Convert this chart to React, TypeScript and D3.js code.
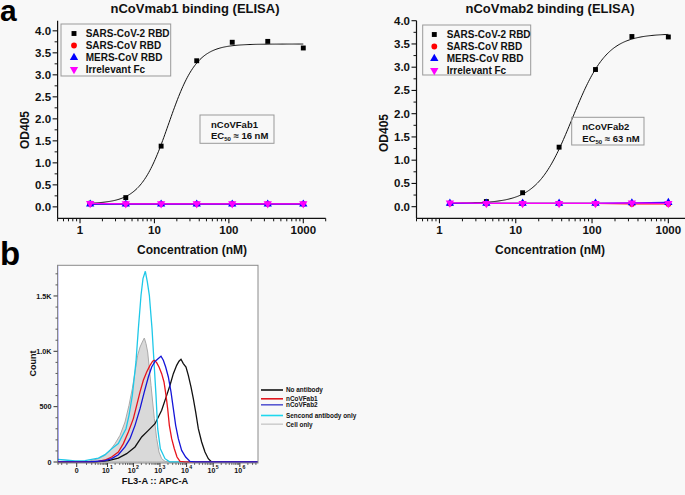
import React from "react";
import * as d3 from "d3";

// ---------------- ELISA data (panel a) ----------------
const concentrations = [1.37, 4.12, 12.3, 37.0, 111, 333, 1000];
const elisaSeriesNames = ["SARS-CoV-2 RBD", "SARS-CoV RBD", "MERS-CoV RBD", "Irrelevant Fc"];
const mab1SarsCoV2 = [0.08, 0.21, 1.38, 3.32, 3.74, 3.76, 3.61];
const mab1SarsCoV = [0.07, 0.07, 0.07, 0.07, 0.07, 0.07, 0.07];
const mab1Mers = [0.06, 0.06, 0.06, 0.06, 0.06, 0.06, 0.06];
const mab1Irrelevant = [0.08, 0.07, 0.07, 0.07, 0.07, 0.07, 0.07];
const mab2SarsCoV2 = [0.07, 0.11, 0.3, 1.28, 2.95, 3.66, 3.65];
const mab2SarsCoV = [0.07, 0.07, 0.07, 0.07, 0.07, 0.06, 0.06];
const mab2Mers = [0.07, 0.07, 0.07, 0.07, 0.07, 0.08, 0.09];
const mab2Irrelevant = [0.08, 0.07, 0.07, 0.07, 0.07, 0.08, 0.07];
// fitted four-parameter logistic curves
const mab1Fit = { bottom: 0.07, top: 3.7, ec50: 15.5, hill: 2.3 };
const mab2Fit = { bottom: 0.07, top: 3.72, ec50: 55, hill: 1.9 };
const odTicks = [0, 0.5, 1, 1.5, 2, 2.5, 3, 3.5, 4];
const concTicks = [1, 10, 100, 1000];

// ---------------- Flow cytometry data (panel b) ----------------
const flowLegend = ["No antibody", "nCoVFab1", "nCoVFab2", "Sencond antibody only", "Cell only"];
const cellOnly: [number, number][] = [
  [-3.2, 0], [1.3, 6], [4.12, 30], [7.91, 60], [12.6, 105], [19.8, 166], [30.9, 241], [48, 361],
  [68.1, 512], [91, 663], [115, 813], [145, 964], [178, 1039], [217, 1084], [258, 1120], [299, 1069],
  [345, 994], [399, 843], [461, 693], [532, 542], [615, 392], [752, 211], [921, 90], [1160, 30],
  [1547, 6], [2384, 0], [4.8e6, 0],
];
const noAntibody: [number, number][] = [
  [-3.2, 0], [2.9, 0], [10.8, 12], [26.6, 36], [55.5, 75], [115, 136], [205, 226], [366, 286],
  [652, 346], [1160, 467], [1787, 602], [2384, 693], [3180, 798], [4241, 873], [5190, 910],
  [6168, 928], [7541, 889], [9500, 858], [11625, 783], [14630, 678], [17900, 572], [21900, 452],
  [27580, 301], [36770, 181], [49040, 90], [65400, 30], [87200, 0], [4.8e6, 0],
];
const secondOnly: [number, number][] = [
  [-3.2, 24], [-1.31, 18], [-0.12, 9], [0.79, 12], [1.99, 24], [4.12, 36], [7.91, 66], [14.6, 120],
  [26.6, 166], [35.8, 226], [52.4, 301], [68.1, 422], [91, 602], [125, 904], [154, 1205], [194, 1506],
  [230, 1657], [282, 1723], [335, 1627], [399, 1506], [503, 1205], [597, 904], [710, 602], [821, 301],
  [1034, 120], [1547, 30], [2384, 0], [4.8e6, 0],
];
const fab1: [number, number][] = [
  [-3.2, 3], [1.3, 0], [4.12, 6], [7.91, 18], [14.6, 45], [26.6, 90], [41.5, 166], [64.3, 271],
  [99.5, 392], [133, 512], [178, 633], [237, 738], [317, 813], [423, 873], [532, 910], [615, 919],
  [752, 898], [921, 858], [1160, 798], [1419, 723], [1687, 602], [1948, 482], [2251, 331], [2753, 211],
  [3465, 120], [4366, 45], [5658, 6], [8710, 0], [4.8e6, 0],
];
const fab2: [number, number][] = [
  [-3.2, 1800], [-3.1, 3], [1.3, 0], [7.91, 12], [14.6, 30], [26.6, 66], [48, 136], [74.3, 211],
  [115, 331], [178, 482], [258, 633], [366, 768], [488, 858], [652, 909], [869, 934], [1095, 955],
  [1339, 919], [1639, 858], [2065, 768], [2598, 633], [3180, 482], [3889, 331], [4899, 211],
  [6531, 105], [9230, 45], [13422, 6], [20680, 0], [4.8e6, 0],
];
const countTicks = [0, 500, 1000, 1500];
const countTickLabels = ["0", "500", "1.0K", "1.5K"];
const fluorDecades = [1, 2, 3, 4, 5, 6];

const FONT = "'Liberation Sans', Arial, Helvetica, sans-serif";

type Fit = { bottom: number; top: number; ec50: number; hill: number };

function ElisaPanel(p: {
  title: string;
  titleX: number;
  xRange: [number, number];
  yDomain: [number, number];
  yRange: [number, number];
  series: number[][];
  fit: Fit;
  fabName: string;
  ec50Text: string;
  xTitleX: number;
  yTitlePos: [number, number];
  legendBox: [number, number, number, number];
  legendMarkerX: number;
  legendTextX: number;
  annBox: [number, number, number, number];
  annTextX: number;
  annY: [number, number];
}) {
  const x = d3.scaleLog().domain([0.5, 2000]).range(p.xRange);
  const y = d3.scaleLinear().domain(p.yDomain).range(p.yRange);
  const x0 = p.xRange[0];
  const yb = p.yRange[0];
  const colors = ["#000000", "#ff0000", "#0000ff", "#ff00ff"];
  const symbols = [
    d3.symbol(d3.symbolSquare, 24)(),
    d3.symbol(d3.symbolCircle, 26)(),
    d3.symbol(d3.symbolTriangle, 30)(),
    d3.symbol(d3.symbolTriangle, 30)(),
  ];
  const rot = [0, 0, 0, 180];
  const fitFn = (c: number) => p.fit.bottom + (p.fit.top - p.fit.bottom) / (1 + Math.pow(p.fit.ec50 / c, p.fit.hill));
  const fitXs = d3.range(0, 201).map((i) => Math.pow(10, Math.log10(1.37) + (i / 200) * (3 - Math.log10(1.37))));
  const fitPath = d3.line<number>().x((c) => x(c)).y((c) => y(fitFn(c)))(fitXs) || "";
  const line = d3.line<number>().x((_, i) => x(concentrations[i])).y((v) => y(v));

  const yMinor: number[] = [];
  for (let v = 0.25; v < 4.0; v += 0.5) yMinor.push(v);
  const xMinor: number[] = [];
  for (let e = -1; e <= 3; e++) for (let m = 2; m <= 9; m++) {
    const v = m * Math.pow(10, e);
    if (v >= 0.5 && v <= 2000) xMinor.push(v);
  }

  return (
    <g fontFamily={FONT} fontWeight="bold" fill="#111">
      <text x={p.titleX} y={12.5} fontSize={13} textAnchor="middle">{p.title}</text>
      {/* axes */}
      <line x1={x0} x2={x0} y1={yb} y2={p.yRange[1]} stroke="#111" strokeWidth={1.2} />
      <line x1={x0} x2={p.xRange[1]} y1={yb} y2={yb} stroke="#111" strokeWidth={1.2} />
      {odTicks.map((t) => (
        <g key={"yt" + t}>
          <line x1={x0 - 5} x2={x0} y1={y(t)} y2={y(t)} stroke="#111" strokeWidth={1.1} />
          <text x={x0 - 6.5} y={y(t) + 4} fontSize={11.5} textAnchor="end">{t.toFixed(1)}</text>
        </g>
      ))}
      {yMinor.map((t) => (
        <line key={"ym" + t} x1={x0 - 3} x2={x0} y1={y(t)} y2={y(t)} stroke="#111" strokeWidth={1} />
      ))}
      {concTicks.map((t) => (
        <g key={"xt" + t}>
          <line x1={x(t)} x2={x(t)} y1={yb} y2={yb + 5} stroke="#111" strokeWidth={1.1} />
          <text x={x(t)} y={yb + 16} fontSize={11.5} textAnchor="middle">{String(t)}</text>
        </g>
      ))}
      {xMinor.map((t) => (
        <line key={"xm" + t} x1={x(t)} x2={x(t)} y1={yb} y2={yb + 3} stroke="#111" strokeWidth={1} />
      ))}
      <text x={p.xTitleX} y={253.5} fontSize={12} textAnchor="middle">Concentration (nM)</text>
      <text
        transform={`translate(${p.yTitlePos[0]},${p.yTitlePos[1]}) rotate(-90)`}
        fontSize={12}
        textAnchor="middle"
        dominantBaseline="central"
      >
        OD405
      </text>
      {/* fit curve */}
      <path d={fitPath} fill="none" stroke="#111" strokeWidth={1} />
      {/* series */}
      {p.series.map((vals, si) => (
        <g key={"s" + si}>
          {si > 0 && <path d={line(vals) || ""} fill="none" stroke={colors[si]} strokeWidth={1.3} />}
          {vals.map((v, i) => (
            <path
              key={i}
              d={symbols[si] || ""}
              fill={colors[si]}
              transform={`translate(${x(concentrations[i])},${y(v)}) rotate(${rot[si]})`}
            />
          ))}
        </g>
      ))}
      {/* legend */}
      <rect x={p.legendBox[0]} y={p.legendBox[1]} width={p.legendBox[2]} height={p.legendBox[3]} fill="none" stroke="#999" strokeWidth={1} />
      {elisaSeriesNames.map((n, i) => (
        <g key={n}>
          <path d={symbols[i] || ""} fill={colors[i]} transform={`translate(${p.legendMarkerX},${p.legendBox[1] + 9.5 + i * 12}) rotate(${rot[i]})`} />
          <text x={p.legendTextX} y={p.legendBox[1] + 13 + i * 12} fontSize={10}>{n}</text>
        </g>
      ))}
      {/* annotation */}
      <rect x={p.annBox[0]} y={p.annBox[1]} width={p.annBox[2]} height={p.annBox[3]} fill="none" stroke="#999" strokeWidth={1} />
      <text x={p.annTextX} y={p.annY[0]} fontSize={9.5}>{p.fabName}</text>
      <text x={p.annTextX} y={p.annY[1]} fontSize={9.5}>
        EC<tspan fontSize={6} dy={2}>50</tspan>
        <tspan dy={-2}>{" \u2248 " + p.ec50Text}</tspan>
      </text>
    </g>
  );
}

function FlowPanel() {
  const left = 57.5, right = 258, top = 265.3, bottom = 463;
  const x = d3.scaleSymlog().constant(0.75).domain([-3.2, 4.8e6]).range([left, right]);
  const y = d3.scaleLinear().domain([-9, 1777]).range([bottom, top]);
  const line = d3.line<[number, number]>().x((d) => x(d[0])).y((d) => y(d[1]));
  const area = d3.area<[number, number]>().x((d) => x(d[0])).y0(y(0)).y1((d) => y(d[1]));
  const xMinor: number[] = [-3, -2, -1];
  for (let m = 1; m <= 9; m++) xMinor.push(m);
  for (let e = 1; e <= 6; e++) for (let m = 2; m <= 9; m++) {
    const v = m * Math.pow(10, e);
    if (v < 4.8e6) xMinor.push(v);
  }
  const yMinor = d3.range(100, 1800, 100).filter((v) => v % 500 !== 0);
  const legendColors = ["#111111", "#e0161e", "#5a5ad2", "#1ed8ee", "#cfcfcf"];
  const legendY = [390, 398.8, 404.8, 415.5, 424.2];
  return (
    <g fontFamily={FONT} fontWeight="bold" fill="#111">
      <defs>
        <clipPath id="flowclip">
          <rect x={left} y={top} width={right - left} height={bottom - top} />
        </clipPath>
      </defs>
      <rect x={left} y={top} width={right - left} height={bottom - top} fill="#ffffff" />
      <g clipPath="url(#flowclip)">
        <path d={area(cellOnly) || ""} fill="#d9d9d9" stroke="#a9a9a9" strokeWidth={1} />
        <path d={line(noAntibody) || ""} fill="none" stroke="#111111" strokeWidth={1.3} />
        <path d={line(secondOnly) || ""} fill="none" stroke="#1ec8e8" strokeWidth={1.3} />
        <path d={line(fab1) || ""} fill="none" stroke="#e8141c" strokeWidth={1.3} />
        <path d={line(fab2) || ""} fill="none" stroke="#1515d8" strokeWidth={1.3} />
      </g>
      <rect x={left} y={top} width={right - left} height={bottom - top} fill="none" stroke="#8a8a8a" strokeWidth={1} />
      {countTicks.map((t, i) => (
        <g key={"ct" + t}>
          <line x1={left - 4} x2={left} y1={y(t)} y2={y(t)} stroke="#333" strokeWidth={1} />
          <text x={left - 6} y={y(t) + 2.6} fontSize={7.2} textAnchor="end">{countTickLabels[i]}</text>
        </g>
      ))}
      {yMinor.map((t) => (
        <line key={"cm" + t} x1={left - 2} x2={left} y1={y(t)} y2={y(t)} stroke="#333" strokeWidth={0.8} />
      ))}
      <line x1={x(0)} x2={x(0)} y1={bottom} y2={bottom + 4} stroke="#333" strokeWidth={1} />
      <text x={x(0)} y={472.6} fontSize={7} textAnchor="middle">0</text>
      {fluorDecades.map((e) => (
        <g key={"fd" + e}>
          <line x1={x(Math.pow(10, e))} x2={x(Math.pow(10, e))} y1={bottom} y2={bottom + 4} stroke="#333" strokeWidth={1} />
          <text x={x(Math.pow(10, e)) + 2.2} y={472.8} fontSize={7} textAnchor="end">10</text>
          <text x={x(Math.pow(10, e)) + 2.6} y={469.2} fontSize={5.2} textAnchor="start">{String(e)}</text>
        </g>
      ))}
      {xMinor.map((t) => (
        <line key={"fm" + t} x1={x(t)} x2={x(t)} y1={bottom} y2={bottom + 2} stroke="#333" strokeWidth={0.7} />
      ))}
      <text x={155} y={484} fontSize={9.3} textAnchor="middle">FL3-A :: APC-A</text>
      <text transform="translate(33.3,363.5) rotate(-90)" fontSize={9} textAnchor="middle" dominantBaseline="central">
        Count
      </text>
      {flowLegend.map((n, i) => (
        <g key={n}>
          <line x1={261} x2={283} y1={legendY[i]} y2={legendY[i]} stroke={legendColors[i]} strokeWidth={1.6} />
          <text x={286} y={legendY[i] + 2.3} fontSize={6.4}>{n}</text>
        </g>
      ))}
    </g>
  );
}

export default function App() {
  return (
    <svg
      width={685}
      height={495}
      viewBox="0 0 685 495"
      style={{ position: "absolute", left: 0, top: 0, background: "#f8f8f8", display: "block" }}
    >
      <rect x={0} y={0} width={685} height={495} fill="#f8f8f8" />
      <text x={0} y={21} fontFamily={FONT} fontWeight="bold" fontSize={30} fill="#000">a</text>
      <text x={0} y={265} fontFamily={FONT} fontWeight="bold" fontSize={33} fill="#000">b</text>
      <ElisaPanel
        title="nCoVmab1 binding (ELISA)"
        titleX={195}
        xRange={[57.6, 325.7]}
        yDomain={[-0.26, 4.23]}
        yRange={[218.3, 20.7]}
        series={[mab1SarsCoV2, mab1SarsCoV, mab1Mers, mab1Irrelevant]}
        fit={mab1Fit}
        fabName="nCoVFab1"
        ec50Text="16 nM"
        xTitleX={192}
        yTitlePos={[25, 130]}
        legendBox={[61, 24, 109.7, 52]}
        legendMarkerX={74}
        legendTextX={85.7}
        annBox={[200, 115, 74, 28.3]}
        annTextX={211}
        annY={[128, 139.3]}
      />
      <ElisaPanel
        title="nCoVmab2 binding (ELISA)"
        titleX={550}
        xRange={[416.5, 691.3]}
        yDomain={[-0.25, 4.0]}
        yRange={[218.3, 20.7]}
        series={[mab2SarsCoV2, mab2SarsCoV, mab2Mers, mab2Irrelevant]}
        fit={mab2Fit}
        fabName="nCoVFab2"
        ec50Text="63 nM"
        xTitleX={550}
        yTitlePos={[384, 133]}
        legendBox={[422.7, 25, 108, 50]}
        legendMarkerX={434.3}
        legendTextX={446.7}
        annBox={[571.7, 117.3, 72.3, 27.7]}
        annTextX={582.3}
        annY={[130, 141.5]}
      />
      <FlowPanel />
    </svg>
  );
}
